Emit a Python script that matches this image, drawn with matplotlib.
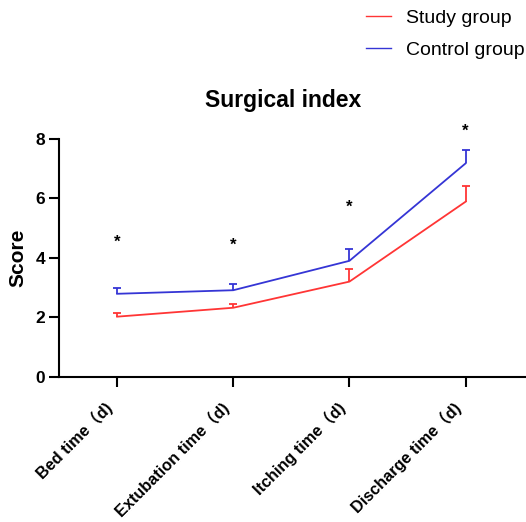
import numpy as np
import matplotlib
matplotlib.use("Agg")
from matplotlib import pyplot as plt
from matplotlib.lines import Line2D
from matplotlib.transforms import ScaledTranslation

plt.rcParams['font.family'] = ['Liberation Sans', 'Noto Sans CJK SC', 'DejaVu Sans']

# data
categories = ['Bed time（d)', 'Extubation time（d)', 'Itching time（d)', 'Discharge time（d)']
study_mean = [2.02, 2.32, 3.20, 5.89]
study_err = [0.11, 0.12, 0.43, 0.54]
control_mean = [2.79, 2.91, 3.90, 7.18]
control_err = [0.21, 0.21, 0.41, 0.44]
star_y = [4.52, 4.41, 5.69, 8.27]
series_labels = ['Study group', 'Control group']

red = '#FF3535'
blue = '#3535D5'

fig = plt.figure(figsize=(5.26, 5.22), dpi=100)
ax = fig.add_axes([0.1122, 0.2784, 0.8878, 0.4553])

x = np.arange(len(categories))
for mean, err, col in [(study_mean, study_err, red), (control_mean, control_err, blue)]:
    eb = ax.errorbar(x, mean, yerr=[np.zeros(len(x)), err], color=col, lw=1.3,
                     capsize=3, capthick=1.3, elinewidth=1.3)
    # only keep the upper cap
    eb[1][0].set_visible(False)

for xi, yi in zip(x, star_y):
    ax.text(xi, yi, '*', ha='center', va='center', fontsize=12, fontweight='bold')

ax.set_xlim(-0.5, 3.52)
ax.set_ylim(0, 8)
ax.set_yticks([0, 2, 4, 6, 8])
ax.set_xticks(x)
ax.set_xticklabels([])
# rotated category labels, nudged left like the original
lab_tr = ax.get_xaxis_transform() + ScaledTranslation(-7 / 100, -29 / 100, fig.dpi_scale_trans)
for xi, name in zip(x, categories):
    ax.text(xi, 0, name, transform=lab_tr, rotation=45, ha='right', va='center',
            rotation_mode='anchor', fontsize=11.7, fontweight='bold')
for lab in ax.get_yticklabels():
    lab.set_fontweight('bold')
    lab.set_fontsize(12.5)
ax.tick_params(direction='out', length=7, width=1.5)
ax.tick_params(axis='y', pad=3)
for s in ['top', 'right']:
    ax.spines[s].set_visible(False)
for s in ['left', 'bottom']:
    ax.spines[s].set_linewidth(1.5)
ax.set_ylabel('Score', fontsize=15, fontweight='bold', labelpad=6)

fig.text(0.538, 0.808, 'Surgical index', ha='center', va='center',
         fontsize=16.5, fontweight='bold')

h = [Line2D([], [], color=red, lw=1), Line2D([], [], color=blue, lw=1)]
fig.legend(h, series_labels, loc='upper right', bbox_to_anchor=(1.03, 1.015), frameon=False,
           fontsize=14, handlelength=1.3, handletextpad=0.75, labelspacing=0.7)

fig.savefig('out.png', dpi=100)
